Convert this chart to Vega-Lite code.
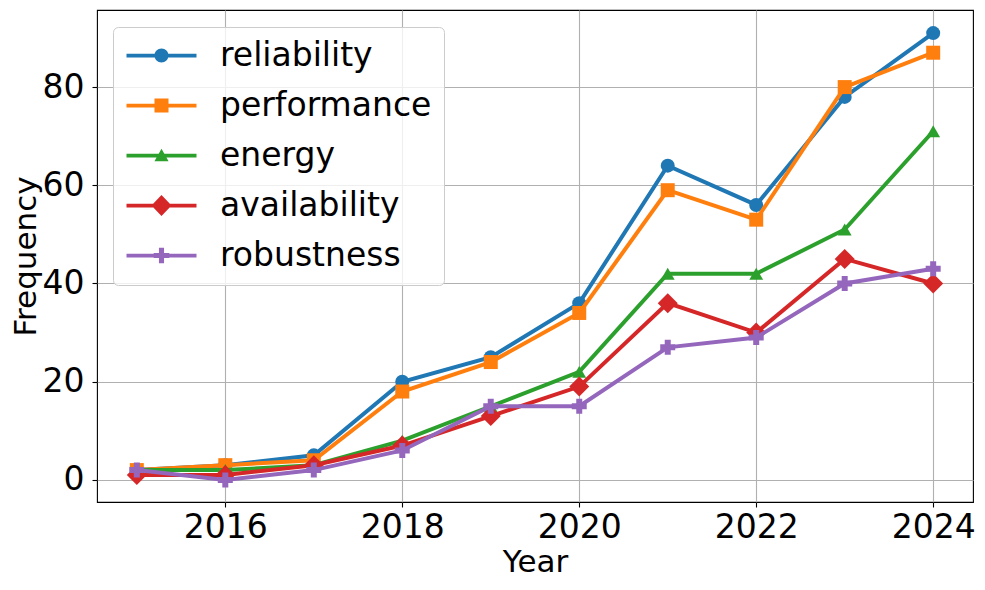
{
  "$schema": "https://vega.github.io/schema/vega-lite/v6.json",
  "width": 876,
  "height": 492,
  "autosize": {"type": "none"},
  "padding": {"left": 97, "top": 10, "right": 12, "bottom": 88},
  "config": {"view": {"stroke": "black", "strokeWidth": 1.1}, "font": "DejaVu Sans"},
  "data": {"values": [
    {"year": 2015, "series": "reliability", "value": 2},
    {"year": 2016, "series": "reliability", "value": 3},
    {"year": 2017, "series": "reliability", "value": 5},
    {"year": 2018, "series": "reliability", "value": 20},
    {"year": 2019, "series": "reliability", "value": 25},
    {"year": 2020, "series": "reliability", "value": 36},
    {"year": 2021, "series": "reliability", "value": 64},
    {"year": 2022, "series": "reliability", "value": 56},
    {"year": 2023, "series": "reliability", "value": 78},
    {"year": 2024, "series": "reliability", "value": 91},
    {"year": 2015, "series": "performance", "value": 2},
    {"year": 2016, "series": "performance", "value": 3},
    {"year": 2017, "series": "performance", "value": 4},
    {"year": 2018, "series": "performance", "value": 18},
    {"year": 2019, "series": "performance", "value": 24},
    {"year": 2020, "series": "performance", "value": 34},
    {"year": 2021, "series": "performance", "value": 59},
    {"year": 2022, "series": "performance", "value": 53},
    {"year": 2023, "series": "performance", "value": 80},
    {"year": 2024, "series": "performance", "value": 87},
    {"year": 2015, "series": "energy", "value": 2},
    {"year": 2016, "series": "energy", "value": 2},
    {"year": 2017, "series": "energy", "value": 3},
    {"year": 2018, "series": "energy", "value": 8},
    {"year": 2019, "series": "energy", "value": 15},
    {"year": 2020, "series": "energy", "value": 22},
    {"year": 2021, "series": "energy", "value": 42},
    {"year": 2022, "series": "energy", "value": 42},
    {"year": 2023, "series": "energy", "value": 51},
    {"year": 2024, "series": "energy", "value": 71},
    {"year": 2015, "series": "availability", "value": 1},
    {"year": 2016, "series": "availability", "value": 1},
    {"year": 2017, "series": "availability", "value": 3},
    {"year": 2018, "series": "availability", "value": 7},
    {"year": 2019, "series": "availability", "value": 13},
    {"year": 2020, "series": "availability", "value": 19},
    {"year": 2021, "series": "availability", "value": 36},
    {"year": 2022, "series": "availability", "value": 30},
    {"year": 2023, "series": "availability", "value": 45},
    {"year": 2024, "series": "availability", "value": 40},
    {"year": 2015, "series": "robustness", "value": 2},
    {"year": 2016, "series": "robustness", "value": 0},
    {"year": 2017, "series": "robustness", "value": 2},
    {"year": 2018, "series": "robustness", "value": 6},
    {"year": 2019, "series": "robustness", "value": 15},
    {"year": 2020, "series": "robustness", "value": 15},
    {"year": 2021, "series": "robustness", "value": 27},
    {"year": 2022, "series": "robustness", "value": 29},
    {"year": 2023, "series": "robustness", "value": 40},
    {"year": 2024, "series": "robustness", "value": 43}
  ]},
  "encoding": {
    "x": {
      "field": "year", "type": "quantitative",
      "scale": {"domain": [2014.55, 2024.45], "nice": false, "zero": false},
      "axis": {
        "values": [2016, 2018, 2020, 2022, 2024], "format": "d", "title": "Year",
        "labelFontSize": 33, "titleFontSize": 31, "labelColor": "black", "titleColor": "black",
        "titleFontWeight": "normal", "tickColor": "black", "tickSize": 5, "tickWidth": 1.1,
        "labelPadding": 4, "titlePadding": 3, "domain": false, "grid": true,
        "gridColor": "#b0b0b0", "gridWidth": 1.1, "gridOpacity": 1, "labelFlush": false
      }
    },
    "y": {
      "field": "value", "type": "quantitative",
      "scale": {"domain": [-4.5, 95.7], "nice": false, "zero": false},
      "axis": {
        "values": [0, 20, 40, 60, 80], "title": "Frequency",
        "labelFontSize": 33, "titleFontSize": 31, "labelColor": "black", "titleColor": "black",
        "titleFontWeight": "normal", "tickColor": "black", "tickSize": 5, "tickWidth": 1.1,
        "labelPadding": 8, "titlePadding": 0, "domain": false, "grid": true,
        "gridColor": "#b0b0b0", "gridWidth": 1.1, "gridOpacity": 1, "labelFlush": false
      }
    },
    "color": {
      "field": "series", "type": "nominal",
      "scale": {
        "domain": ["reliability", "performance", "energy", "availability", "robustness"],
        "range": ["#1f77b4", "#ff7f0e", "#2ca02c", "#d62728", "#9467bd"]
      },
      "legend": {
        "orient": "none", "legendX": 16, "legendY": 17, "title": null,
        "labelFontSize": 33, "labelColor": "black", "labelLimit": 500,
        "symbolSize": 900, "symbolOffset": 20, "labelOffset": 42, "rowPadding": 16, "padding": 12,
        "fillColor": "rgba(255,255,255,0.8)", "strokeColor": "#cccccc", "cornerRadius": 5,
        "symbolStrokeWidth": 0, "symbolOpacity": 1,
        "encode": {
          "symbols": {
            "update": {
              "shape": {"signal": "datum.value === 'reliability' ? 'M-2.333,-0.125H2.333V0.125H-2.333Z M0.467,0A0.467,0.467 0 1,1 -0.467,0A0.467,0.467 0 1,1 0.467,0Z' : datum.value === 'performance' ? 'M-2.333,-0.125H2.333V0.125H-2.333Z M-0.467,-0.467H0.467V0.467H-0.467Z' : datum.value === 'energy' ? 'M-2.333,-0.125H2.333V0.125H-2.333Z M0,-0.45L0.47,0.38L-0.47,0.38Z' : datum.value === 'availability' ? 'M-2.333,-0.125H2.333V0.125H-2.333Z M0,-0.7L0.67,0L0,0.7L-0.67,0Z' : 'M-2.333,-0.125H2.333V0.125H-2.333Z M-0.17,-0.52H0.17V-0.17H0.52V0.17H0.17V0.52H-0.17V0.17H-0.52V-0.17H-0.17Z'"},
              "size": {"value": 900},
              "strokeWidth": {"value": 0},
              "opacity": {"value": 1}
            }
          }
        }
      }
    }
  },
  "layer": [
    {"transform": [{"filter": "datum.series === 'reliability'"}], "mark": {"type": "line", "strokeWidth": 4}},
    {"transform": [{"filter": "datum.series === 'reliability'"}], "mark": {"type": "point", "shape": "circle", "size": 196, "filled": true, "opacity": 1}},
    {"transform": [{"filter": "datum.series === 'performance'"}], "mark": {"type": "line", "strokeWidth": 4}},
    {"transform": [{"filter": "datum.series === 'performance'"}], "mark": {"type": "point", "shape": "square", "size": 196, "filled": true, "opacity": 1}},
    {"transform": [{"filter": "datum.series === 'energy'"}], "mark": {"type": "line", "strokeWidth": 4}},
    {"transform": [{"filter": "datum.series === 'energy'"}], "mark": {"type": "point", "shape": "triangle-up", "size": 190, "filled": true, "opacity": 1}},
    {"transform": [{"filter": "datum.series === 'availability'"}], "mark": {"type": "line", "strokeWidth": 4}},
    {"transform": [{"filter": "datum.series === 'availability'"}], "mark": {"type": "point", "shape": "diamond", "size": 400, "filled": true, "opacity": 1}},
    {"transform": [{"filter": "datum.series === 'robustness'"}], "mark": {"type": "line", "strokeWidth": 4}},
    {"transform": [{"filter": "datum.series === 'robustness'"}], "mark": {"type": "point", "shape": "cross", "size": 225, "filled": true, "opacity": 1}}
  ]
}
